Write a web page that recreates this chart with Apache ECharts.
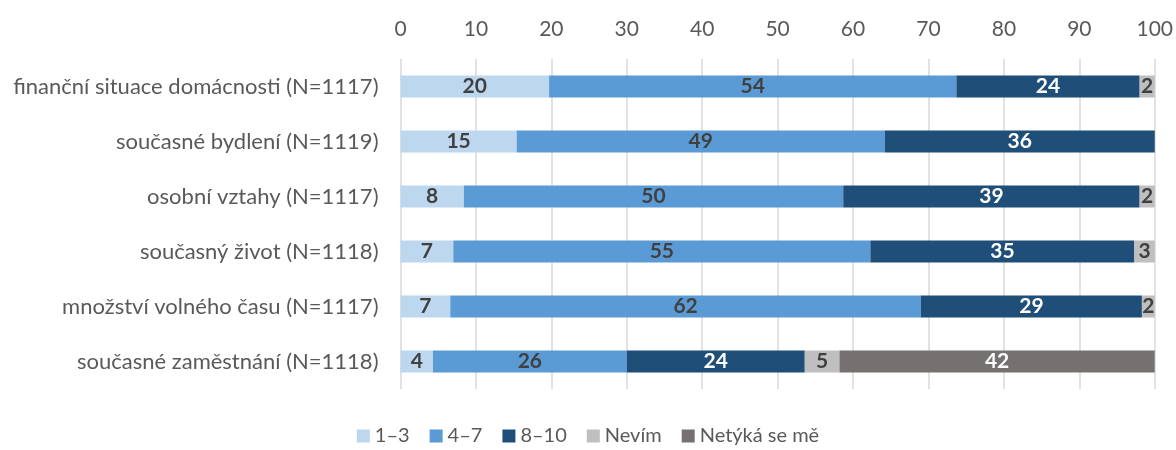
<!DOCTYPE html>
<html>
<head>
<meta charset="utf-8">
<script src="https://cdn.jsdelivr.net/npm/echarts@6/dist/echarts.min.js"></script>
<style>html,body{margin:0;padding:0;background:#fff}#c{width:1176px;height:450px}</style>
</head>
<body>
<div id="c"></div>
<script>
const categories = [
  'finanční situace domácnosti (N=1117)',
  'současné bydlení (N=1119)',
  'osobní vztahy (N=1117)',
  'současný život (N=1118)',
  'množství volného času (N=1117)',
  'současné zaměstnání (N=1118)'
];
const seriesNames = ['1–3', '4–7', '8–10', 'Nevím', 'Netýká se mě'];
const v13 = [19.7, 15.4, 8.4, 7.0, 6.6, 4.3];
const v47 = [54.0, 48.8, 50.3, 55.3, 62.4, 25.7];
const v810 = [24.3, 35.8, 39.3, 35.0, 29.3, 23.6];
const vNevim = [2.0, 0, 2.0, 2.7, 1.7, 4.6];
const vNetyka = [0, 0, 0, 0, 0, 41.8];
const xTicks = [0, 10, 20, 30, 40, 50, 60, 70, 80, 90, 100];

const colors = ['#BDD7EE', '#5B9BD5', '#1F4E79', '#BFBFBF', '#767171'];
const labelColors = ['#404040', '#404040', '#ffffff', '#404040', '#ffffff'];
const allData = [v13, v47, v810, vNevim, vNetyka];
const font = 'Lato, "Open Sans", sans-serif';

const chart = echarts.init(document.getElementById('c'));
chart.setOption({
  animation: false,
  textStyle: { fontFamily: font },
  grid: { left: 400.5, right: 21, top: 59, height: 330 },
  legend: {
    bottom: -1,
    left: 'center',
    itemWidth: 13,
    itemHeight: 13,
    itemGap: 20,
    icon: 'rect',
    textStyle: { fontSize: 20, color: '#595959', fontFamily: font },
    data: seriesNames
  },
  xAxis: {
    type: 'value',
    position: 'top',
    min: xTicks[0],
    max: xTicks[xTicks.length - 1],
    interval: 10,
    axisLine: { show: false },
    axisTick: { show: false },
    axisLabel: { fontSize: 21, color: '#595959', margin: 19, fontFamily: font },
    splitLine: { lineStyle: { color: '#d9d9d9', width: 1.5 } }
  },
  yAxis: {
    type: 'category',
    inverse: true,
    data: categories,
    axisLine: { show: false },
    axisTick: { show: false },
    axisLabel: { fontSize: 22, color: '#595959', margin: 22, fontFamily: font }
  },
  series: seriesNames.map((name, i) => ({
    name: name,
    type: 'bar',
    stack: 'total',
    barWidth: 22,
    itemStyle: { color: colors[i] },
    label: {
      show: true,
      position: 'inside',
      fontSize: 21,
      fontWeight: 'bold',
      color: labelColors[i],
      fontFamily: font,
      formatter: p => p.value > 0 ? String(Math.round(p.value)) : ''
    },
    data: allData[i]
  }))
});
</script>
</body>
</html>
